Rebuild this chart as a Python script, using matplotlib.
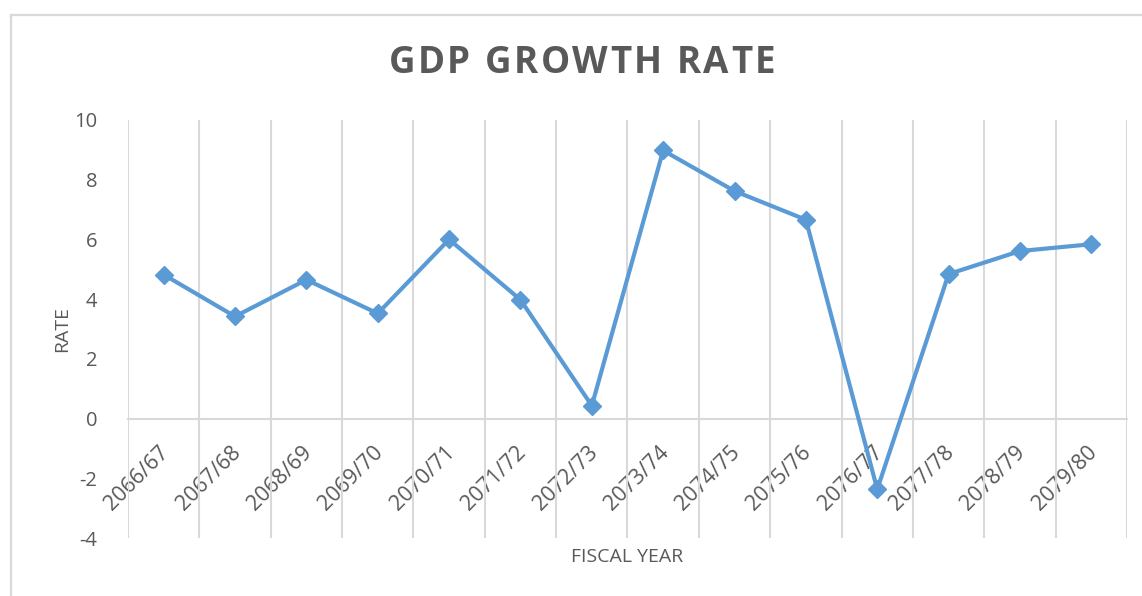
import matplotlib
matplotlib.use("Agg")
import matplotlib.pyplot as plt
import matplotlib.transforms as mtransforms
from matplotlib.lines import Line2D
import numpy as np

years = ["2066/67", "2067/68", "2068/69", "2069/70", "2070/71", "2071/72", "2072/73",
         "2073/74", "2074/75", "2075/76", "2076/77", "2077/78", "2078/79", "2079/80"]
growth = [4.82, 3.42, 4.65, 3.52, 6.0, 3.98, 0.43, 8.98, 7.62, 6.66, -2.37, 4.84, 5.61, 5.84]
y_ticks = [-4, -2, 0, 2, 4, 6, 8, 10]
title = "GDP GROWTH RATE"

TXT = "#595959"
GRID = "#d9d9d9"
LINE = "#5B9BD5"
plt.rcParams['font.family'] = ['Open Sans', 'DejaVu Sans']

W, H = 1142, 596
fig = plt.figure(figsize=(W / 100, H / 100), dpi=100)
ax = fig.add_axes([128 / W, 1 - 538 / H, (1127 - 128) / W, (538 - 120) / H])

x = np.arange(len(years))
ax.plot(x, growth, color=LINE, lw=3.0, marker='D', ms=9, zorder=5, clip_on=False)

ax.set_xlim(-0.5, len(years) - 0.5)
ax.set_ylim(-4, 10)
ax.set_yticks(y_ticks)
ax.set_yticklabels([str(v) for v in y_ticks])
ax.tick_params(axis='y', length=0, pad=22, labelsize=14.5, labelcolor=TXT)

ax.set_xticks(np.arange(-0.5, len(years)), minor=True)
ax.tick_params(axis='x', which='minor', length=0)
ax.grid(True, which='minor', axis='x', color=GRID, lw=1.5)
ax.set_xticks(x)
ax.set_xticklabels(years)
ax.tick_params(axis='x', which='major', length=0, pad=17, labelsize=15.5, labelcolor=TXT)
ax.grid(False, which='major')

for s in ['left', 'right', 'top']:
    ax.spines[s].set_visible(False)
ax.spines['bottom'].set_position(('data', 0))
ax.spines['bottom'].set_color(GRID)
ax.spines['bottom'].set_linewidth(1.5)

shift = mtransforms.ScaledTranslation(-5 / 100, 0, fig.dpi_scale_trans)
for lab in ax.get_xticklabels():
    lab.set_rotation(45)
    lab.set_ha('right')
    lab.set_va('top')
    lab.set_rotation_mode('anchor')
    lab.set_transform(lab.get_transform() + shift)

fig.text(62 / W, 1 - 329 / H, "RATE", rotation=90, ha='center', va='center', fontsize=14, color=TXT)
fig.text(627 / W, 1 - 557 / H, "FISCAL YEAR", ha='center', va='center', fontsize=14, color=TXT)

# title with letter spacing (Excel-style)
renderer = fig.canvas.get_renderer()
fs_title = 26.5
spacing = 2.5  # px between letters
widths = []
for ch in title:
    t = fig.text(0, 0, ch if ch != " " else "a a", fontsize=fs_title, fontweight='bold')
    w = t.get_window_extent(renderer).width
    if ch == " ":
        t2 = fig.text(0, 0, "aa", fontsize=fs_title, fontweight='bold')
        w = w - t2.get_window_extent(renderer).width
        t2.remove()
    t.remove()
    widths.append(w)
total = sum(widths) + spacing * (len(title) - 1)
xc = 582
xpos = xc - total / 2
for ch, w in zip(title, widths):
    if ch != " ":
        fig.text(xpos / W, 1 - 63 / H, ch, ha='left', va='center', fontsize=fs_title,
                 fontweight='bold', color=TXT)
    xpos += w + spacing

# chart border (left and top)
fig.add_artist(Line2D([11 / W, 11 / W], [0, 1 - 14.5 / H], transform=fig.transFigure, color=GRID, lw=1.6))
fig.add_artist(Line2D([11 / W, 1], [1 - 14.5 / H, 1 - 14.5 / H], transform=fig.transFigure, color=GRID, lw=1.6))

fig.savefig("out.png", dpi=100)
